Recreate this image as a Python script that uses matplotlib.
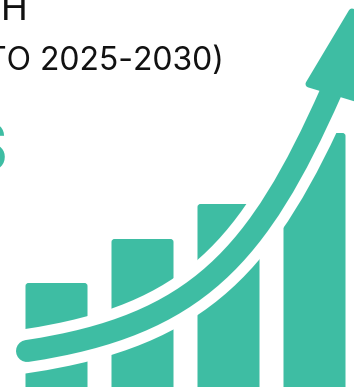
import matplotlib
matplotlib.use("Agg")
import matplotlib.pyplot as plt
from matplotlib.patches import FancyBboxPatch, PathPatch, Polygon, Rectangle
from matplotlib.path import Path

TEAL = "#3EBDA3"
WIDTH, HEIGHT = 354, 387

# Bar heights above the lower edge of the graphic
bar_values = [104, 148, 183, 254]

# Growth curve as one cubic Bezier, from the rounded start to the arrow neck
trend_x = [27, 197, 258, 331]
trend_y = [351, 325.5, 256, 92]

# Arrow head corners
head_x = [309, 352, 372]
head_y = [84, 12, 103]

plt.rcParams["font.family"] = ["Inter", "DejaVu Sans"]

fig = plt.figure(figsize=(WIDTH / 100, HEIGHT / 100), dpi=100)
ax = fig.add_axes([0, 0, 1, 1])
ax.set_xlim(0, WIDTH)
ax.set_ylim(HEIGHT, 0)
ax.axis("off")

bar_width = 62
bar_step = 86
first_left = 25.5
radius = 3
for i, value in enumerate(bar_values):
    left = first_left + i * bar_step
    ax.add_patch(FancyBboxPatch(
        (left + radius, HEIGHT - value + radius),
        bar_width - 2 * radius, value + 20,
        boxstyle=f"round,pad={radius},rounding_size={radius}",
        fc=TEAL, ec="none", zorder=1))

px = 72 / 100
curve = Path(list(zip(trend_x, trend_y)),
             [Path.MOVETO, Path.CURVE4, Path.CURVE4, Path.CURVE4])
ax.add_patch(PathPatch(curve, fc="none", ec="white", lw=44 * px,
                       capstyle="projecting", zorder=2))
# The last bar's corner stays hidden behind the curve's white outline
ax.add_patch(Rectangle((280, 125), 14, 40, fc="white", ec="none", zorder=2))
ax.add_patch(PathPatch(curve, fc="none", ec=TEAL, lw=22 * px,
                       capstyle="round", zorder=3))
ax.add_patch(Polygon(list(zip(head_x, head_y)), closed=True, fc=TEAL, ec=TEAL,
                     lw=7 * px, joinstyle="round", zorder=3))

ax.text(1, 20, "H", fontsize=26, color="#111111", ha="left", va="baseline")
ax.text(224, 69.5, "TO 2025-2030)", fontsize=23, color="#111111",
        ha="right", va="baseline")
ax.text(7, 171, "S", fontsize=48, fontweight="bold", color=TEAL,
        ha="right", va="baseline")

fig.savefig("out.png", dpi=100)
